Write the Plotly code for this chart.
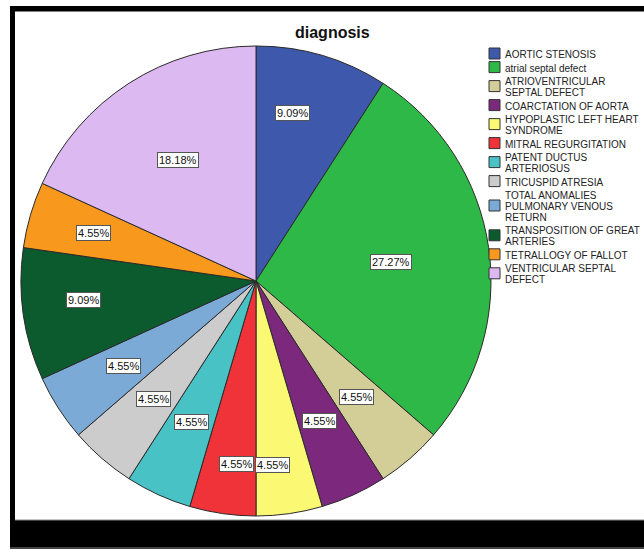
import math
import plotly.graph_objects as go

# Diagnosis counts (n = 22)
diagnoses = [
    "AORTIC STENOSIS",
    "atrial septal defect",
    "ATRIOVENTRICULAR SEPTAL DEFECT",
    "COARCTATION OF AORTA",
    "HYPOPLASTIC LEFT HEART SYNDROME",
    "MITRAL REGURGITATION",
    "PATENT DUCTUS ARTERIOSUS",
    "TRICUSPID ATRESIA",
    "TOTAL ANOMALIES PULMONARY VENOUS RETURN",
    "TRANSPOSITION OF GREAT ARTERIES",
    "TETRALLOGY OF FALLOT",
    "VENTRICULAR SEPTAL DEFECT",
]
counts = [2, 6, 1, 1, 1, 1, 1, 1, 1, 2, 1, 4]

# Legend text, wrapped the way it is shown beside the pie
legend_lines = [
    ["AORTIC STENOSIS"],
    ["atrial septal defect"],
    ["ATRIOVENTRICULAR", "SEPTAL DEFECT"],
    ["COARCTATION OF AORTA"],
    ["HYPOPLASTIC LEFT HEART", "SYNDROME"],
    ["MITRAL REGURGITATION"],
    ["PATENT DUCTUS", "ARTERIOSUS"],
    ["TRICUSPID ATRESIA"],
    ["TOTAL ANOMALIES", "PULMONARY VENOUS", "RETURN"],
    ["TRANSPOSITION OF GREAT", "ARTERIES"],
    ["TETRALLOGY OF FALLOT"],
    ["VENTRICULAR SEPTAL", "DEFECT"],
]

colors = [
    "#3E58AC", "#2EB848", "#D3CE97", "#7C287D", "#FBF873", "#EF3338",
    "#48C2C5", "#CCCCCC", "#7BAAD7", "#0C5B2F", "#F8981D", "#DDB9F1",
]

# Placement of each percentage label: fraction of radius, and angular nudge (deg)
label_radius = [0.73, 0.58, 0.655, 0.655, 0.785, 0.785, 0.66, 0.665, 0.67, 0.74, 0.72, 0.61]
label_nudge = [-4.2, 0, 0, 0, 2.9, -2.0, 0, 0, 0, 2.0, 0, 0]

W, H = 644, 549
FONT = "Liberation Sans, Arial, sans-serif"


def px(x):
    return x / W


def py(y):
    return 1 - y / H


# Pie geometry in pixels
cx, cy, R = 256, 281, 235

fig = go.Figure()
fig.add_trace(go.Pie(
    labels=diagnoses,
    values=counts,
    sort=False,
    direction="clockwise",
    rotation=0,
    marker=dict(colors=colors, line=dict(color="#2a2a2a", width=1)),
    textinfo="none",
    hoverinfo="label+percent",
    showlegend=False,
    domain=dict(x=[px(cx - R), px(cx + R)], y=[py(cy + R), py(cy - R)]),
))

annotations = []
shapes = []

# Percentage labels in white boxes
total = sum(counts)
start = 0.0
for v, rf, nudge in zip(counts, label_radius, label_nudge):
    span = v / total * 360
    mid = math.radians(start + span / 2 + nudge)
    start += span
    lx = cx + rf * R * math.sin(mid)
    ly = cy - rf * R * math.cos(mid)
    annotations.append(dict(
        x=px(lx), y=py(ly), xref="paper", yref="paper",
        text=f"{v / total * 100:.2f}%", showarrow=False,
        xanchor="center", yanchor="middle",
        font=dict(family=FONT, size=11, color="#111"),
        bgcolor="white", bordercolor="#555", borderwidth=1, borderpad=1,
    ))

# Title
annotations.append(dict(
    x=px(332), y=py(33), xref="paper", yref="paper", text="<b>diagnosis</b>",
    showarrow=False, xanchor="center", yanchor="middle",
    font=dict(family=FONT, size=16, color="#111"),
))

# Legend: swatch + wrapped text
y_cur = 54.5
line_step, item_gap = 10.8, 13.6
for col, lines in zip(colors, legend_lines):
    ys = []
    for ln in lines:
        ys.append(y_cur)
        annotations.append(dict(
            x=px(503), y=py(y_cur), xref="paper", yref="paper", text=ln,
            showarrow=False, xanchor="left", yanchor="middle",
            font=dict(family=FONT, size=10, color="#222"),
        ))
        y_cur += line_step
    y_cur += item_gap - line_step
    ym = sum(ys) / len(ys) - 1
    shapes.append(dict(
        type="rect", xref="paper", yref="paper",
        x0=px(489), x1=px(500), y0=py(ym + 5.5), y1=py(ym - 5.5),
        fillcolor=col, line=dict(color="#333", width=1),
    ))

# Black frame around the chart area
frame = [
    (10, 6, W, 11.5, "black"),     # top band
    (10, 6, 15, H, "black"),       # left band
    (10, 520, W, 547, "black"),    # bottom band
    (10, 547, W, H, "#444"),
]
for x0, y0, x1, y1, c in frame:
    shapes.append(dict(
        type="rect", xref="paper", yref="paper",
        x0=px(x0), x1=px(x1), y0=py(y1), y1=py(y0),
        fillcolor=c, line=dict(width=0), layer="above",
    ))
shapes.append(dict(
    type="line", xref="paper", yref="paper",
    x0=px(15), x1=px(W), y0=py(520), y1=py(520),
    line=dict(color="#888", width=1), layer="above",
))

fig.update_layout(
    width=W, height=H, autosize=False,
    margin=dict(l=0, r=0, t=0, b=0),
    paper_bgcolor="white", plot_bgcolor="white",
    annotations=annotations, shapes=shapes,
    showlegend=False,
)

fig.write_html("out.html")
